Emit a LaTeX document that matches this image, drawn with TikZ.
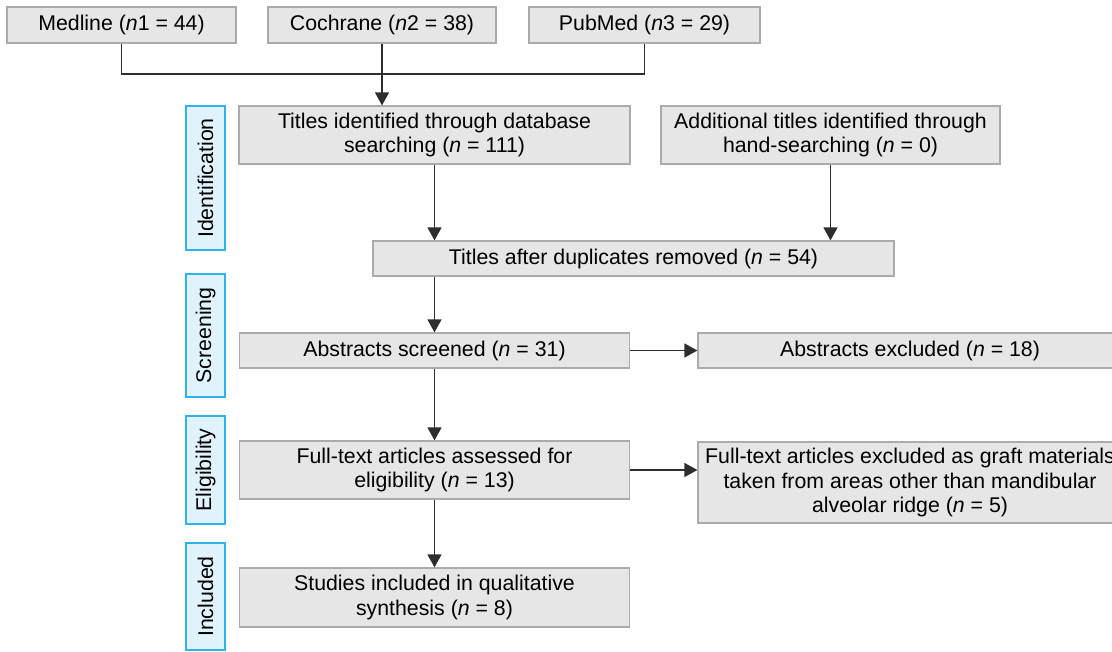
\documentclass[tikz,border=0pt]{standalone}
\usepackage{fontspec}
\setmainfont{Liberation Sans}
\usetikzlibrary{arrows.meta,positioning}
\definecolor{boxgray}{HTML}{E6E6E7}
\definecolor{edgegray}{HTML}{ABABAB}
\definecolor{phasefill}{HTML}{E0F3FC}
\definecolor{phaseedge}{HTML}{2DB4E8}
\definecolor{linegray}{HTML}{2E2E2E}
\newcommand{\nn}{\textit{n}}

\begin{document}
\begin{tikzpicture}[
  x=1pt, y=-1pt,
  >={Triangle[length=13pt,width=14pt]},
  font=\fontsize{21.3}{24.5}\selectfont,
  flow/.style={->, draw=linegray, fill=linegray, line width=1.3pt},
  bus/.style={draw=linegray, line width=1.3pt},
  box/.style={draw=edgegray, fill=boxgray, line width=1.2pt, align=center,
              inner sep=0pt, minimum height=#1},
  box/.default=36pt,
  phase/.style={draw=phaseedge, fill=phasefill, line width=1.4pt, rotate=90,
                minimum width=#1, minimum height=39pt, inner sep=0pt}
]
  \useasboundingbox (0,0) rectangle (1112,652);
  \clip (0,0) rectangle (1112,652);
  \def\xl{205.5} \def\xm{434.5} \def\xr{910}
  % databases
  \node[box, minimum width=229pt] (medline) at (121.5,25) {Medline (\nn1 = 44)};
  \node[box, minimum width=228pt] (cochrane) at (382,25) {Cochrane (\nn2 = 38)};
  \node[box, minimum width=231pt] (pubmed) at (644.5,25) {PubMed (\nn3 = 29)};
  % phases
  \node[phase=144pt] (ident) at (\xl,178) {Identification};
  \node[phase=123pt] (scrn) at (\xl,335.5) {Screening};
  \node[phase=108pt] (elig) at (\xl,470) {Eligibility};
  \node[phase=107pt] (incd) at (\xl,596.5) {Included};
  % identification
  \node[box=58pt, minimum width=391pt] (db) at (\xm,135)
    {Titles identified through database\\searching (\nn{} = 111)};
  \node[box=58pt, minimum width=339pt] (hand) at (830.5,135)
    {Additional titles identified through\\hand-searching (\nn{} = 0)};
  \node[box=35pt, minimum width=521pt] (dup) at (633.5,258.5)
    {Titles after duplicates removed (\nn{} = 54)};
  % screening
  \node[box=35pt, minimum width=390pt] (scr) at (\xm,350.5)
    {Abstracts screened (\nn{} = 31)};
  \node[box=35pt, minimum width=424pt] (absx) at (\xr,350.5)
    {Abstracts excluded (\nn{} = 18)};
  % eligibility
  \node[box=58pt, minimum width=390pt] (full) at (\xm,470)
    {Full-text articles assessed for\\eligibility (\nn{} = 13)};
  \node[box=81pt, minimum width=424pt] (fullx) at (\xr,482.5)
    {Full-text articles excluded as graft materials\\taken from areas other than mandibular\\alveolar ridge (\nn{} = 5)};
  % included
  \node[box=59pt, minimum width=390pt] (incl) at (\xm,597.5)
    {Studies included in qualitative\\synthesis (\nn{} = 8)};
  % connectors
  \coordinate (merge) at (382,74);
  \draw[bus] (medline.south) |- (merge) -| (pubmed.south);
  \draw[flow] (cochrane.south) -- (cochrane.south |- db.north);
  \draw[flow] (db.south) -- (db.south |- dup.north);
  \draw[flow] (hand.south) -- (hand.south |- dup.north);
  \draw[flow] (dup.south -| scr.north) -- (scr.north);
  \draw[flow] (scr.east) -- (absx.west);
  \draw[flow] (scr.south) -- (full.north);
  \draw[flow] (full.east) -- (full.east -| fullx.west);
  \draw[flow] (full.south) -- (incl.north);
\end{tikzpicture}
\end{document}
